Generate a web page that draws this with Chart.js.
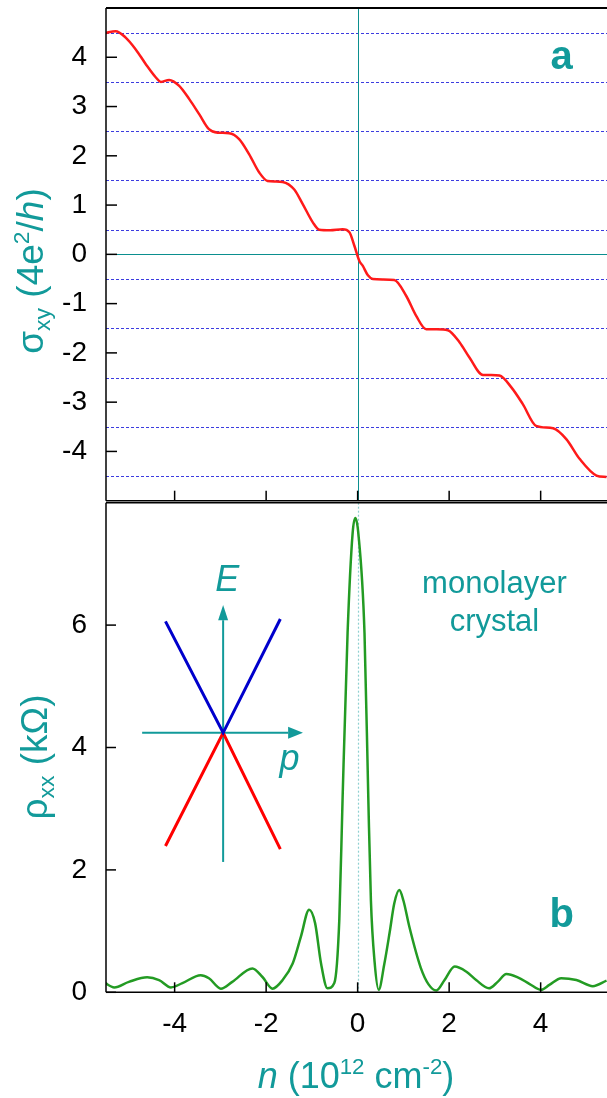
<!DOCTYPE html>
<html>
<head>
<meta charset="utf-8">
<script src="https://cdn.jsdelivr.net/npm/chart.js@4.4.0/dist/chart.umd.min.js"></script>
<style>
  html, body { margin: 0; padding: 0; background: #fff; }
  #wrap { position: relative; width: 607px; height: 1098px; overflow: hidden; }
  #chartA { position: absolute; left: 0; top: 0; }
  #chartB { position: absolute; left: 0; top: 500px; }
</style>
</head>
<body>
<div id="wrap">
  <canvas id="chartA" width="607" height="503"></canvas>
  <canvas id="chartB" width="607" height="598"></canvas>
</div>
<script>
const FAM = '"Liberation Sans", Arial, sans-serif';
const TEAL = '#129a9a';

// shared x axis: carrier density n (10^12 cm^-2)
const xTicks = [-4, -2, 0, 2, 4];

// panel a: Hall conductivity sigma_xy (4e^2/h)
const nA = [-5.52, -5.29, -5.07, -4.85, -4.63, -4.41, -4.30, -4.12, -3.90, -3.68, -3.46, -3.25, -3.06, -2.81,
  -2.59, -2.37, -2.15, -1.97, -1.80, -1.64, -1.39, -1.20, -0.98, -0.84, -0.60, -0.33, -0.18, -0.07, 0.04, 0.11,
  0.22, 0.33, 0.55, 0.80, 1.06, 1.28, 1.50, 1.73, 1.97, 2.23, 2.44, 2.74, 2.92, 3.10, 3.36, 3.61, 3.90, 4.27,
  4.56, 4.85, 5.22, 5.44];
const sigmaXY = [4.49, 4.53, 4.40, 4.16, 3.86, 3.59, 3.50, 3.54, 3.42, 3.15, 2.84, 2.54, 2.47, 2.46,
  2.34, 2.03, 1.66, 1.49, 1.48, 1.47, 1.32, 1.02, 0.65, 0.50, 0.49, 0.51, 0.45, 0.17, -0.14, -0.23,
  -0.42, -0.50, -0.51, -0.52, -0.84, -1.25, -1.52, -1.52, -1.54, -1.79, -2.09, -2.45, -2.45, -2.46, -2.70, -3.04, -3.48, -3.53,
  -3.75, -4.15, -4.49, -4.52];
const plateausA = [4.5, 3.5, 2.5, 1.5, 0.5, -0.5, -1.5, -2.5, -3.5, -4.5];
const yTicksA = [-4, -3, -2, -1, 0, 1, 2, 3, 4];

// panel b: resistivity rho_xx (kOhm)
const nB = [-5.54, -5.32, -5.00, -4.60, -4.34, -4.08, -3.83, -3.43, -3.25, -2.99, -2.74, -2.30, -2.08, -1.86,
  -1.64, -1.42, -1.24, -1.06, -0.93, -0.80, -0.66, -0.51, -0.40, -0.33, -0.22, -0.11, -0.05, 0.015, 0.15,
  0.234, 0.29, 0.37, 0.46, 0.58, 0.70, 0.80, 0.91, 1.00, 1.13, 1.38, 1.55, 1.72, 1.90, 2.12, 2.37, 2.59,
  2.87, 3.06, 3.25, 3.50, 3.76, 4.01, 4.19, 4.45, 4.78, 5.14, 5.44];
const rhoXX = [0.16, 0.08, 0.17, 0.245, 0.20, 0.08, 0.15, 0.28, 0.23, 0.06, 0.17, 0.39, 0.25, 0.06,
  0.20, 0.47, 0.91, 1.35, 1.13, 0.47, 0.065, 0.15, 1.20, 3.14, 5.87, 7.50, 7.75, 7.50, 5.87,
  3.14, 1.50, 0.50, 0.04, 0.45, 0.98, 1.45, 1.67, 1.50, 1.07, 0.40, 0.13, 0.03, 0.20, 0.42, 0.34, 0.20,
  0.065, 0.17, 0.30, 0.245, 0.135, 0.04, 0.12, 0.23, 0.20, 0.10, 0.19];
const yTicksB = [0, 2, 4, 6];

// inset: Dirac cone, drawn in panel b coordinates
const coneN = [-4.20, -2.94, -1.69];
const coneUpper = [6.06, 4.24, 6.10];
const coneLower = [2.39, 4.24, 2.34];
const pAxisN = [-4.71, -1.52, -1.195];   // start, arrow base, arrow tip
const pAxisRho = 4.24;
const eAxisRho = [2.13, 6.08, 6.33];     // start, arrow base, arrow tip
const eAxisN = -2.94;

const pts = (xs, ys) => xs.map((v, i) => ({ x: v, y: ys[i] }));

// text made of runs: [text, style] with style '', 'i', 'sup', 'sub'
function richText(ctx, parts, size, cx, cy, rot, color) {
  const runs = parts.map(p => {
    const small = p[1] === 'sup' || p[1] === 'sub';
    return {
      t: p[0],
      font: (p[1] === 'i' ? 'italic ' : '') + (small ? size * 0.62 : size) + 'px ' + FAM,
      dy: p[1] === 'sup' ? -size * 0.38 : (p[1] === 'sub' ? size * 0.2 : 0)
    };
  });
  ctx.save();
  ctx.translate(cx, cy);
  if (rot) ctx.rotate(rot);
  let w = 0;
  runs.forEach(r => { ctx.font = r.font; r.w = ctx.measureText(r.t).width; w += r.w; });
  let x = -w / 2;
  ctx.fillStyle = color;
  ctx.textAlign = 'left';
  ctx.textBaseline = 'alphabetic';
  runs.forEach(r => { ctx.font = r.font; ctx.fillText(r.t, x, r.dy); x += r.w; });
  ctx.restore();
}

function seg(ctx, x1, y1, x2, y2) {
  ctx.beginPath();
  ctx.moveTo(x1, y1);
  ctx.lineTo(x2, y2);
  ctx.stroke();
}

function label(ctx, text, font, x, y, align) {
  ctx.font = font;
  ctx.fillStyle = TEAL;
  ctx.textAlign = align || 'center';
  ctx.textBaseline = 'alphabetic';
  ctx.fillText(text, x, y);
}

const tickFont = { family: FAM, size: 28 };

const panelA = {
  id: 'panelA',
  beforeDatasetsDraw(chart) {
    const { ctx, chartArea: a, scales: { x, y } } = chart;
    ctx.save();
    ctx.strokeStyle = '#3c3ce0';
    ctx.lineWidth = 1;
    ctx.setLineDash([3, 2]);
    plateausA.forEach(v => {
      const py = Math.round(y.getPixelForValue(v)) + 0.5;
      seg(ctx, a.left, py, a.right, py);
    });
    ctx.setLineDash([]);
    ctx.strokeStyle = '#0b8f8f';
    const py0 = Math.round(y.getPixelForValue(0)) + 0.5;
    const px0 = Math.round(x.getPixelForValue(0)) + 0.5;
    seg(ctx, a.left, py0, a.right, py0);
    seg(ctx, px0, a.top, px0, a.bottom);
    ctx.restore();
  },
  afterDatasetsDraw(chart) {
    const { ctx, chartArea: a, scales: { x, y } } = chart;
    ctx.save();
    ctx.strokeStyle = '#000';
    ctx.lineWidth = 2;
    seg(ctx, a.left, a.top, a.right, a.top);
    ctx.lineWidth = 1.5;
    seg(ctx, a.left, a.top, a.left, a.bottom);
    seg(ctx, a.left, a.bottom, a.right, a.bottom);
    yTicksA.forEach(v => {
      const py = y.getPixelForValue(v);
      seg(ctx, a.left, py, a.left + 11, py);
    });
    xTicks.forEach(v => {
      const px = x.getPixelForValue(v);
      seg(ctx, px, a.bottom, px, a.bottom - 10);
    });
    label(ctx, 'a', 'bold 40px ' + FAM, x.getPixelForValue(4.46), y.getPixelForValue(3.76));
    richText(ctx, [['σ', ''], ['xy', 'sub'], [' (4e', ''], ['2', 'sup'], ['/', ''], ['h', 'i'], [')', '']],
      37, 43, 271, -Math.PI / 2, TEAL);
    ctx.restore();
  }
};

const panelB = {
  id: 'panelB',
  beforeDatasetsDraw(chart) {
    const { ctx, chartArea: a, scales: { x, y } } = chart;
    ctx.save();
    // dotted guide at n = 0
    ctx.strokeStyle = '#8fd0d0';
    ctx.lineWidth = 1.2;
    ctx.setLineDash([2, 2]);
    const px0 = Math.round(x.getPixelForValue(0)) + 0.5;
    seg(ctx, px0, a.top, px0, a.bottom);
    ctx.setLineDash([]);
    // inset axes with arrows
    ctx.strokeStyle = TEAL;
    ctx.fillStyle = TEAL;
    ctx.lineWidth = 2;
    const py = y.getPixelForValue(pAxisRho);
    const hx0 = x.getPixelForValue(pAxisN[0]), hxb = x.getPixelForValue(pAxisN[1]), hxt = x.getPixelForValue(pAxisN[2]);
    seg(ctx, hx0, py, hxb, py);
    ctx.beginPath();
    ctx.moveTo(hxt, py); ctx.lineTo(hxb, py - 6); ctx.lineTo(hxb, py + 6); ctx.closePath(); ctx.fill();
    const vx = x.getPixelForValue(eAxisN);
    const vy0 = y.getPixelForValue(eAxisRho[0]), vyb = y.getPixelForValue(eAxisRho[1]), vyt = y.getPixelForValue(eAxisRho[2]);
    seg(ctx, vx, vy0, vx, vyb);
    ctx.beginPath();
    ctx.moveTo(vx, vyt); ctx.lineTo(vx - 5, vyb); ctx.lineTo(vx + 5, vyb); ctx.closePath(); ctx.fill();
    ctx.restore();
  },
  afterDatasetsDraw(chart) {
    const { ctx, chartArea: a, scales: { x, y } } = chart;
    ctx.save();
    ctx.strokeStyle = '#000';
    ctx.lineWidth = 1.5;
    seg(ctx, a.left, a.top, a.right, a.top);
    seg(ctx, a.left, a.top, a.left, a.bottom);
    seg(ctx, a.left, a.bottom, a.right, a.bottom);
    yTicksB.forEach(v => {
      const py = y.getPixelForValue(v);
      seg(ctx, a.left, py, a.left + 10, py);
    });
    xTicks.forEach(v => {
      const px = x.getPixelForValue(v);
      seg(ctx, px, a.bottom, px, a.bottom - 10);
    });
    label(ctx, 'b', 'bold 40px ' + FAM, x.getPixelForValue(4.46), y.getPixelForValue(1.07));
    label(ctx, 'monolayer', '31px ' + FAM, x.getPixelForValue(2.99), y.getPixelForValue(6.52));
    label(ctx, 'crystal', '31px ' + FAM, x.getPixelForValue(2.99), y.getPixelForValue(5.90));
    label(ctx, 'E', 'italic 36px ' + FAM, x.getPixelForValue(-2.85), y.getPixelForValue(6.56));
    label(ctx, 'p', 'italic 36px ' + FAM, x.getPixelForValue(-1.71), y.getPixelForValue(3.63), 'left');
    richText(ctx, [['ρ', ''], ['xx', 'sub'], [' (kΩ)', '']], 37, 47, 257, -Math.PI / 2, TEAL);
    richText(ctx, [['n', 'i'], [' (10', ''], ['12', 'sup'], [' cm', ''], ['-2', 'sup'], [')', '']],
      36, 356, 588, 0, TEAL);
    ctx.restore();
  }
};

const commonPlugins = { legend: { display: false }, tooltip: { enabled: false } };

new Chart(document.getElementById('chartA'), {
  type: 'line',
  data: {
    datasets: [{
      data: pts(nA, sigmaXY),
      borderColor: '#ff1a1a',
      borderWidth: 2.5,
      pointRadius: 0,
      cubicInterpolationMode: 'monotone',
      fill: false
    }]
  },
  options: {
    responsive: false,
    animation: false,
    events: [],
    layout: { padding: { top: 8, left: 0, right: 0, bottom: 2.3 } },
    plugins: commonPlugins,
    scales: {
      x: { type: 'linear', min: -5.5, max: 5.45, display: false },
      y: {
        type: 'linear', min: -5, max: 5,
        afterBuildTicks: s => { s.ticks = yTicksA.map(v => ({ value: v })); },
        grid: { display: false },
        border: { display: false },
        ticks: { font: tickFont, color: '#000', padding: 11, callback: v => String(v) },
        afterFit: s => { s.width = 106; s.paddingTop = 0; s.paddingBottom = 0; }
      }
    }
  },
  plugins: [panelA]
});

new Chart(document.getElementById('chartB'), {
  type: 'line',
  data: {
    datasets: [
      {
        data: pts(nB, rhoXX),
        borderColor: '#239b23',
        borderWidth: 2.5,
        pointRadius: 0,
        cubicInterpolationMode: 'monotone',
        fill: false
      },
      {
        data: pts(coneN, coneUpper),
        borderColor: '#0000cc',
        borderWidth: 3,
        pointRadius: 0,
        tension: 0,
        fill: false
      },
      {
        data: pts(coneN, coneLower),
        borderColor: '#ff0000',
        borderWidth: 3,
        pointRadius: 0,
        tension: 0,
        fill: false
      }
    ]
  },
  options: {
    responsive: false,
    animation: false,
    events: [],
    layout: { padding: { top: 2.7, left: 0, right: 0, bottom: 0 } },
    plugins: commonPlugins,
    scales: {
      x: {
        type: 'linear', min: -5.5, max: 5.45,
        afterBuildTicks: s => { s.ticks = xTicks.map(v => ({ value: v })); },
        grid: { display: false },
        border: { display: false },
        ticks: { font: tickFont, color: '#000', padding: 7, maxRotation: 0, autoSkip: false, callback: v => String(v) },
        afterFit: s => { s.height = 105.7; s.paddingLeft = 0; s.paddingRight = 0; }
      },
      y: {
        type: 'linear', min: 0, max: 8,
        afterBuildTicks: s => { s.ticks = yTicksB.map(v => ({ value: v })); },
        grid: { display: false },
        border: { display: false },
        ticks: { font: tickFont, color: '#000', padding: 11, callback: v => String(v) },
        afterFit: s => { s.width = 106; s.paddingTop = 0; s.paddingBottom = 0; }
      }
    }
  },
  plugins: [panelB]
});
</script>
</body>
</html>
